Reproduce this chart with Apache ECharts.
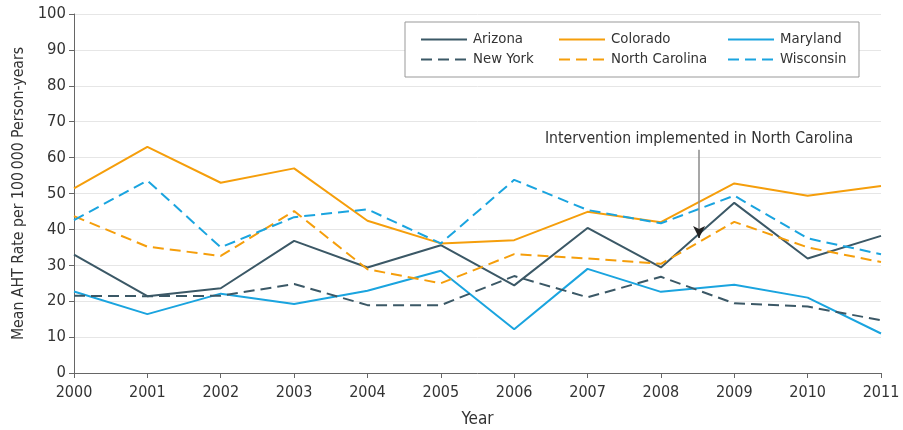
<!DOCTYPE html>
<html><head><meta charset="utf-8">
<script src="https://cdn.jsdelivr.net/npm/echarts@6/dist/echarts.min.js"></script>
<style>html,body{margin:0;padding:0;background:#fff}#c{width:903px;height:430px}</style>
</head><body><div id="c"></div>
<script>
const years = [2000,2001,2002,2003,2004,2005,2006,2007,2008,2009,2010,2011];
const arizona = [33,21.4,23.6,36.8,29.4,35.6,24.4,40.4,29.4,47.4,31.9,38.2];
const colorado = [51.4,63,53,57,42.4,36.1,37,44.9,42,52.8,49.4,52.1];
const maryland = [22.7,16.4,22.1,19.2,22.9,28.5,12.2,29,22.6,24.6,21,11];
const newYork = [21.5,21.4,21.5,24.8,18.9,18.9,27,21.1,26.8,19.4,18.5,14.7];
const northCarolina = [43.7,35.2,32.6,45.1,28.9,25,33.1,31.9,30.4,42.1,35,30.9];
const wisconsin = [42.6,53.6,35,43.4,45.6,36.1,53.8,45.4,41.7,49.4,37.5,33.1];
const annotationText = 'Intervention implemented in North Carolina';
const annotationX = 2008.52, annotationTop = 62.2, annotationTip = 37.6, arrowHeadStart = 40;

const FONT = '"Liberation Sans Narrow","DejaVu Sans Condensed","Noto Sans",sans-serif';
const SLATE = '#3b5866', ORANGE = '#f59e0b', BLUE = '#1aa4df';
const pairs = a => years.map((y,i)=>[y,a[i]]);
function s(name, data, color, dashed){
  return {name, type:'line', data:pairs(data), showSymbol:false, symbol:'none',
    lineStyle:{color, width:2, type: dashed ? [11,6] : 'solid'}, itemStyle:{color}, z:2};
}
const series = [
  s('Arizona', arizona, SLATE, false),
  s('Colorado', colorado, ORANGE, false),
  s('Maryland', maryland, BLUE, false),
  s('New York', newYork, SLATE, true),
  s('North Carolina', northCarolina, ORANGE, true),
  s('Wisconsin', wisconsin, BLUE, true)
];
series[0].markLine = {
  silent:true, symbol:['none','none'],
  lineStyle:{color:'#8a8a8a', width:1.5, type:'solid'},
  label:{show:true, position:'start', formatter:annotationText, fontFamily:FONT, fontSize:15.7, color:'#333', distance:3},
  data:[[{coord:[annotationX, annotationTop]},{coord:[annotationX, arrowHeadStart]}]]
};
series[1].markLine = {
  silent:true, symbol:['none','arrow'], symbolSize:[9,12],
  lineStyle:{color:'#222', width:1.5, type:'solid'}, label:{show:false},
  data:[[{coord:[annotationX, arrowHeadStart]},{coord:[annotationX, annotationTip]}]]
};
const legendCommon = {orient:'vertical', itemWidth:46, itemHeight:14, itemGap:5, itemStyle:{opacity:0},
  textStyle:{fontFamily:FONT, fontSize:14.8, color:'#333', padding:[0,0,0,1]}, top:32, padding:0, z:6};
const chart = echarts.init(document.getElementById('c'));
chart.setOption({
  animation:false,
  grid:{left:74, right:22, top:14, bottom:57, outerBoundsMode:'none'},
  graphic:[{type:'rect', shape:{x:405, y:22, width:454, height:55}, style:{fill:'#fff', stroke:'#999', lineWidth:1}, z:5}],
  legend:[
    Object.assign({left:420, data:['Arizona','New York']}, legendCommon),
    Object.assign({left:558, data:['Colorado','North Carolina']}, legendCommon),
    Object.assign({left:727, data:['Maryland','Wisconsin']}, legendCommon)
  ],
  xAxis:{type:'value', min:2000, max:2011, interval:1, name:'Year', nameLocation:'middle', nameGap:38,
    nameTextStyle:{fontFamily:FONT, fontSize:17, color:'#333'},
    axisLine:{lineStyle:{color:'#666'}}, axisTick:{show:true, length:5, lineStyle:{color:'#666'}},
    axisLabel:{formatter:v=>String(v), fontFamily:FONT, fontSize:16, color:'#333', margin:12},
    splitLine:{show:false}},
  yAxis:{type:'value', min:0, max:100, interval:10, name:'Mean AHT Rate per 100\u2009000 Person-years',
    nameLocation:'middle', nameGap:46, nameTextStyle:{fontFamily:FONT, fontSize:15.7, color:'#333'},
    axisLine:{show:true, lineStyle:{color:'#666'}}, axisTick:{show:true, length:5, lineStyle:{color:'#666'}},
    axisLabel:{fontFamily:FONT, fontSize:16.5, color:'#333', margin:8},
    splitLine:{lineStyle:{color:'#e6e6e6', width:1}}},
  series
});
</script></body></html>
